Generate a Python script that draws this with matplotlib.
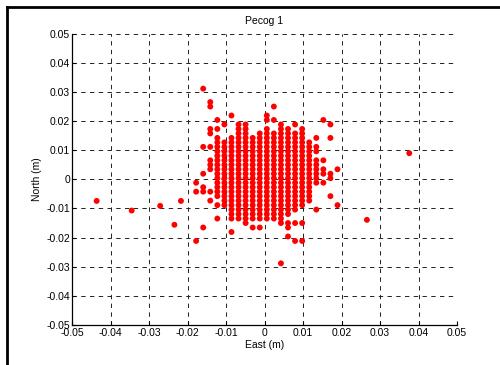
import numpy as np
import matplotlib.pyplot as plt
from matplotlib.lines import Line2D

plt.rcParams['font.family'] = ['Liberation Sans', 'DejaVu Sans']

# position quantisation of the solutions (m)
EAST_0, EAST_STEP = 0.0006, 0.001836
NORTH_0, NORTH_STEP = 0.0004, 0.00154

# occupied cells: north row index -> list of east column indices
CORE_ROWS = {
    20: [-9],
    17: [-8],
    16: [-8, 1],
    14: [-5, 0],
    13: [-7, 0, 1, 8],
    12: [-6, -4, -3, 2, 4, 9],
    11: [-8, -7, -4, -3, 0, 2, 3, 5],
    10: [-8, -4, -3, -1, 0, 1, 2, 3, 4, 5],
    9: [-7, -5, -4, -3, -2, -1, 0, 1, 2, 3, 4, 5, 7, 9],
    8: [-7, -6, -5, -4, -3, -2, -1, 0, 1, 2, 3, 4, 5, 6],
    7: [-9, -8, -7, -6, -5, -4, -3, -2, -1, 0, 1, 2, 3, 4, 5, 6, 7],
    6: [-7, -6, -5, -4, -3, -2, -1, 0, 1, 2, 3, 4, 5, 6, 7],
    5: [-7, -6, -5, -4, -3, -2, -1, 0, 1, 2, 3, 4, 5, 6],
    4: [-8, -7, -6, -5, -4, -3, -2, -1, 0, 1, 2, 3, 4, 5, 6, 7, 8],
    3: [-8, -7, -6, -5, -4, -3, -2, -1, 0, 1, 2, 3, 4, 5, 6, 7],
    2: [-8, -7, -6, -5, -4, -3, -2, -1, 0, 1, 2, 3, 4, 5, 6, 7, 8, 10],
    1: [-9, -7, -6, -5, -4, -3, -2, -1, 0, 1, 2, 3, 4, 5, 6, 7, 8, 9],
    0: [-7, -6, -5, -4, -3, -2, -1, 0, 1, 2, 3, 4, 5, 6, 7, 9],
    -1: [-10, -7, -6, -5, -4, -3, -2, -1, 0, 1, 2, 3, 4, 5, 6, 7, 8],
    -2: [-9, -7, -6, -5, -4, -3, -2, -1, 0, 1, 2, 3, 4, 5, 6],
    -3: [-10, -9, -8, -7, -6, -5, -4, -3, -2, -1, 0, 1, 2, 3, 4, 5, 6],
    -4: [-7, -6, -5, -4, -3, -2, -1, 0, 1, 2, 3, 4, 5, 6, 9],
    -5: [-8, -6, -5, -4, -3, -2, -1, 0, 1, 2, 3, 4, 5, 6],
    -6: [-7, -6, -5, -4, -3, -2, -1, 0, 1, 2, 3, 4, 5, 10],
    -7: [-5, -4, -3, -2, -1, 0, 1, 2, 3, 4, 7],
    -8: [-5, -4, -3, -2, -1, 0, 1, 2, 3],
    -9: [-7, -5, -4, -3, -2, -1, 0, 1, 2],
    -10: [-3, 2, 3, 4, 5],
    -11: [-9, -2, -1, 3],
    -12: [-5],
    -13: [3],
    -14: [-10, 4, 5],
    -19: [2],
}

# isolated solutions far from the cluster (m)
OUTLIER_EAST = [-0.0436, -0.0345, -0.0271, -0.0217, -0.0234, 0.0376, 0.0266]
OUTLIER_NORTH = [-0.0074, -0.0107, -0.0091, -0.0074, -0.0156, 0.0090, -0.0139]

TICKS = [-0.05, -0.04, -0.03, -0.02, -0.01, 0, 0.01, 0.02, 0.03, 0.04, 0.05]
TICK_LABELS = ["-0.05", "-0.04", "-0.03", "-0.02", "-0.01", "0",
               "0.01", "0.02", "0.03", "0.04", "0.05"]

east, north = [], []
for j, cols in CORE_ROWS.items():
    for k in cols:
        east.append(EAST_0 + k * EAST_STEP)
        north.append(NORTH_0 + j * NORTH_STEP)
east += OUTLIER_EAST
north += OUTLIER_NORTH

fig = plt.figure(figsize=(5.0, 3.65), dpi=100)
ax = fig.add_axes([0.144, 0.110, 0.770, 0.797])

ax.scatter(east, north, s=18, color="#FF0000", edgecolors="none", zorder=3)

ax.set_xlim(-0.05, 0.05)
ax.set_ylim(-0.05, 0.05)
ax.set_xticks(TICKS)
ax.set_xticklabels(TICK_LABELS)
ax.set_yticks(TICKS)
ax.set_yticklabels(TICK_LABELS)
ax.tick_params(direction="in", length=3, width=0.8, labelsize=7.5, pad=2)
ax.tick_params(axis="y", pad=1.5)

ax.grid(True, color="#222222", linestyle=(0, (4.5, 4.5)), linewidth=0.7)
ax.set_axisbelow(True)
for side in ["top", "right"]:
    ax.spines[side].set_visible(False)
for side in ["left", "bottom"]:
    ax.spines[side].set_linewidth(0.9)

ax.set_title("Pecog 1", fontsize=7.5, pad=7)
ax.set_xlabel("East (m)", fontsize=7.5, labelpad=2)
ax.set_ylabel("North (m)", fontsize=7.5, labelpad=3)

# black frame on the left and top edges of the figure
fig.add_artist(Line2D([7 / 500, 7 / 500], [0, 1 - 7 / 365], transform=fig.transFigure,
                      color="k", linewidth=2))
fig.add_artist(Line2D([7 / 500, 1], [1 - 7 / 365, 1 - 7 / 365], transform=fig.transFigure,
                      color="k", linewidth=2))

fig.savefig("out.png", dpi=100)
